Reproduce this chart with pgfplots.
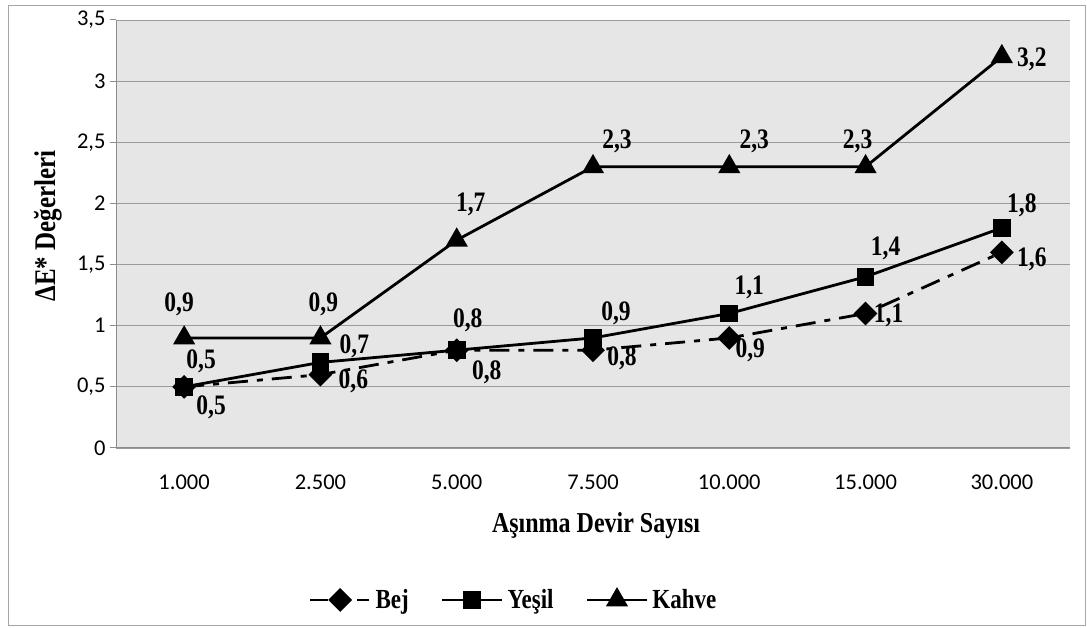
\documentclass[border=0pt]{standalone}
\usepackage{fontspec}
\setmainfont{Liberation Serif}
\newfontfamily\tickfont{Carlito}
\usepackage{graphicx}
\usepackage{pgfplots}
\usepackage{pgfplotstable}
\pgfplotsset{compat=1.18}

\definecolor{plotbg}{HTML}{E6E6E6}
\definecolor{gridgray}{HTML}{9A9A9A}
\definecolor{axisgray}{HTML}{8C8C8C}
\definecolor{framegray}{HTML}{A6A6A6}

% tall bold serif used for all titles and value labels
\newcommand{\tall}[1]{\scalebox{1}[1.2]{#1}}

% legend sample for the dash-dot series
\pgfplotsset{bejlegend/.style={legend image code/.code={%
    \draw[##1, dash pattern=on 18pt off 29pt on 12pt off 60pt]
      (0pt,0pt) -- (60pt,0pt);
    \draw[##1, solid] plot coordinates {(30pt,0pt)};}}}

% x = category index, y = Delta E*, dx/dy = label offset (pt)
\pgfplotstableread{
x y dx dy
0 0.5 27 -20
1 0.6 33 -7
2 0.8 30 -22
3 0.8 29 -8
4 0.9 21 -12
5 1.1 23 -2
6 1.6 30 -7
}\bej
\pgfplotstableread{
x y dx dy
0 0.5 17 26
1 0.7 34 16
2 0.8 11 30
3 0.9 23 25
4 1.1 20 26
5 1.4 20 28
6 1.8 20 23
}\yesil
\pgfplotstableread{
x y dx dy
0 0.9 -5 34
1 0.9 3 34
2 1.7 14 36
3 2.3 24 25
4 2.3 25 25
5 2.3 -8 25
6 3.2 30 -3
}\kahve

\begin{document}
\begin{tikzpicture}[x=1pt,y=1pt]
\useasboundingbox (0,0) rectangle (1087,628);
\draw[framegray, line width=1pt] (8,2) rectangle (1085,622);

\begin{axis}[
  at={(116pt,180pt)}, anchor=south west,
  scale only axis, width=954pt, height=428pt,
  xmin=-0.5, xmax=6.5, ymin=0, ymax=3.5,
  axis background/.style={fill=plotbg},
  axis x line*=bottom, axis y line*=left,
  axis line style={axisgray, line width=1pt},
  xtick={0,...,6},
  xticklabels={1.000,2.500,5.000,7.500,10.000,15.000,30.000},
  ytick={0,0.5,...,3.5},
  /pgf/number format/use comma,
  /pgf/number format/assume math mode=true,
  ymajorgrids, major grid style={gridgray, line width=0.9pt},
  tick align=outside,
  x tick style={draw=none},
  y tick style={axisgray, line width=1pt},
  major tick length=6pt,
  ticklabel style={font=\tickfont\fontsize{22.5}{22.5}\selectfont, black},
  xticklabel style={yshift=-17pt},
  yticklabel style={xshift=-1pt},
  clip=false,
  every axis plot/.append style={black, line width=2.8pt},
  nodes near coords={\tall{\pgfmathprintnumber[fixed,precision=1,use comma]{\pgfplotspointmeta}}},
  point meta=y,
  visualization depends on={\thisrow{dx} \as \dx},
  visualization depends on={\thisrow{dy} \as \dy},
  every node near coord/.append style={anchor=center, xshift=\dx pt, yshift=\dy pt,
    font=\bfseries\fontsize{23.5}{23.5}\selectfont, black, inner sep=0pt},
  legend columns=3,
  legend style={at={(axis description cs:0.4167,-0.355)}, anchor=center,
    draw=none, fill=none, font=\bfseries\fontsize{23}{23}\selectfont,
    inner sep=0pt,
    /tikz/every odd column/.append style={column sep=2pt},
    /tikz/every even column/.append style={column sep=30pt}},
  legend image code/.code={\draw[#1, mark repeat=2, mark phase=2]
    plot coordinates {(0pt,0pt) (30pt,0pt) (60pt,0pt)};},
]
\addplot[dash pattern=on 20pt off 9pt on 6pt off 9pt,
  mark=square*, mark size=7pt, mark options={solid, fill=black, rotate=45},
  bejlegend]
  table[x=x, y=y] {\bej};
\addlegendentry{\tall{Bej}}
\addplot[mark=square*, mark size=7.5pt, mark options={solid, fill=black}]
  table[x=x, y=y] {\yesil};
\addlegendentry{\tall{Yeşil}}
\addplot[mark=triangle*, mark size=10pt, mark options={solid, fill=black}]
  table[x=x, y=y] {\kahve};
\addlegendentry{\tall{Kahve}}
\end{axis}

\node[anchor=base, rotate=90, font=\bfseries\fontsize{25}{25}\selectfont]
  at (55,402) {\tall{ΔE* Değerleri}};
\node[anchor=base, font=\bfseries\fontsize{24}{24}\selectfont]
  at (596,95) {\tall{Aşınma Devir Sayısı}};
\end{tikzpicture}
\end{document}
